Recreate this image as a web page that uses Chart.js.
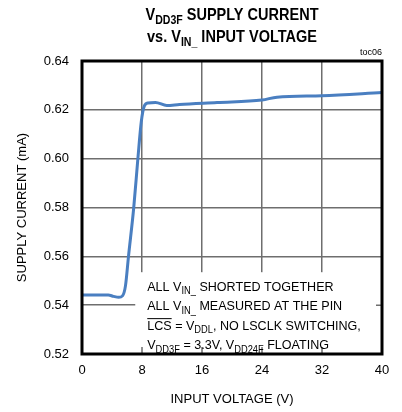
<!DOCTYPE html>
<html>
<head>
    <meta charset="UTF-8">
    <title>VDD3F Supply Current</title>
    <style>
        body { margin: 0; background: #fff; }
        canvas { display: block; }
    </style>
    <script src="https://cdn.jsdelivr.net/npm/chart.js"></script>
</head>
<body>
<canvas id="chart" width="402" height="412"></canvas>
<script>
    // values
    const voltage = [0, 2, 3.5, 4.2, 4.9, 5.4, 5.8, 6.2, 6.9, 7.45, 7.9, 8.3, 8.8, 9.8, 11.3, 13, 18, 24, 26, 32, 40];
    const current = [0.5442, 0.5442, 0.5442, 0.5436, 0.5432, 0.5438, 0.548, 0.560, 0.580, 0.600, 0.615, 0.6215, 0.6228, 0.6230, 0.6218, 0.6222, 0.6230, 0.6240, 0.6252, 0.6258, 0.6271];

    const xTicks = [0, 8, 16, 24, 32, 40];
    const yTicks = [0.52, 0.54, 0.56, 0.58, 0.60, 0.62, 0.64];

    const FONT = '"Liberation Sans", Arial, sans-serif';

    // draws a line made of normal / subscript pieces, squeezed a bit like the original narrow font
    function drawRich(ctx, parts, x, y, size, bold, align, sx) {
        const w = bold ? 'bold ' : '';
        const subSize = Math.round(size * 0.72);
        let total = 0;
        parts.forEach(p => {
            ctx.font = w + (p.sub ? subSize : size) + 'px ' + FONT;
            p.w = ctx.measureText(p.t).width * sx;
            total += p.w;
        });
        let cx = align === 'center' ? x - total / 2 : x;
        ctx.save();
        ctx.fillStyle = '#000';
        ctx.textAlign = 'left';
        ctx.textBaseline = 'alphabetic';
        parts.forEach(p => {
            ctx.font = w + (p.sub ? subSize : size) + 'px ' + FONT;
            ctx.save();
            ctx.translate(cx, y + (p.sub ? size * 0.27 : 0));
            ctx.scale(sx, 1);
            ctx.fillText(p.t, 0, 0);
            ctx.restore();
            if (p.over) {
                ctx.lineWidth = 1;
                ctx.strokeStyle = '#000';
                ctx.beginPath();
                ctx.moveTo(cx, y - size * 0.82);
                ctx.lineTo(cx + p.w, y - size * 0.82);
                ctx.stroke();
            }
            cx += p.w;
        });
        ctx.restore();
    }

    const titleLines = [
        [{t: 'V'}, {t: 'DD3F', sub: true}, {t: ' SUPPLY CURRENT'}],
        [{t: 'vs. V'}, {t: 'IN_', sub: true}, {t: ' INPUT VOLTAGE'}]
    ];

    const noteLines = [
        [{t: 'ALL V'}, {t: 'IN_', sub: true}, {t: ' SHORTED TOGETHER'}],
        [{t: 'ALL V'}, {t: 'IN_', sub: true}, {t: ' MEASURED AT THE PIN'}],
        [{t: 'LCS', over: true}, {t: ' = V'}, {t: 'DDL', sub: true}, {t: ', NO LSCLK SWITCHING,'}],
        [{t: 'V'}, {t: 'DD3F', sub: true}, {t: ' = 3.3V, V'}, {t: 'DD24F', sub: true}, {t: ' FLOATING'}]
    ];

    const decorations = {
        id: 'decorations',
        beforeDatasetsDraw(chart) {
            const {ctx, chartArea: a, scales: {x, y}} = chart;
            // white panel behind the notes hides the grid there
            const left = x.getPixelForValue(7.1);
            const top = y.getPixelForValue(0.5535);
            ctx.save();
            ctx.fillStyle = '#fff';
            ctx.fillRect(left, top, a.right - left, a.bottom - top);
            // short tick marks inside the panel
            ctx.strokeStyle = '#6e6e6e';
            ctx.lineWidth = 1.5;
            ctx.beginPath();
            xTicks.slice(1, -1).forEach(v => {
                const px = x.getPixelForValue(v);
                ctx.moveTo(px, a.bottom);
                ctx.lineTo(px, a.bottom - 7);
            });
            const py = y.getPixelForValue(0.54);
            ctx.moveTo(a.right, py);
            ctx.lineTo(a.right - 6, py);
            ctx.stroke();
            ctx.restore();
            noteLines.forEach((ln, i) => drawRich(ctx, ln, left + 12, top + 18.5 + i * 19.5, 13.5, false, 'left', 0.93));
        },
        afterDraw(chart) {
            const {ctx, chartArea: a} = chart;
            ctx.save();
            ctx.strokeStyle = '#000';
            ctx.lineWidth = 3;
            ctx.strokeRect(a.left, a.top, a.right - a.left, a.bottom - a.top);
            ctx.restore();
            const mid = (a.left + a.right) / 2;
            drawRich(ctx, titleLines[0], mid, 20, 16.5, true, 'center', 0.88);
            drawRich(ctx, titleLines[1], mid, 41.5, 16.5, true, 'center', 0.88);
            ctx.save();
            ctx.font = '9px ' + FONT;
            ctx.fillStyle = '#000';
            ctx.textAlign = 'right';
            ctx.fillText('toc06', a.right, a.top - 6);
            ctx.restore();
        }
    };

    const tickFont = {family: FONT, size: 13};
    const gridStyle = {color: '#6e6e6e', lineWidth: 1.5, drawTicks: false};

    new Chart(document.getElementById('chart'), {
        type: 'line',
        data: {
            datasets: [{
                data: voltage.map((v, i) => ({x: v, y: current[i]})),
                borderColor: '#4a7fc1',
                borderWidth: 3,
                pointRadius: 0,
                fill: false,
                cubicInterpolationMode: 'monotone'
            }]
        },
        options: {
            responsive: false,
            animation: false,
            devicePixelRatio: 1,
            layout: {padding: {top: 61, right: 20, left: 0, bottom: 0}},
            plugins: {legend: {display: false}, tooltip: {enabled: false}},
            scales: {
                x: {
                    type: 'linear',
                    min: xTicks[0],
                    max: xTicks[xTicks.length - 1],
                    afterBuildTicks: s => { s.ticks = xTicks.map(v => ({value: v})); },
                    afterFit: s => { s.height = 58; },
                    ticks: {color: '#000', font: tickFont, padding: 9, maxRotation: 0},
                    grid: gridStyle,
                    border: {display: false},
                    title: {display: true, text: 'INPUT VOLTAGE (V)', color: '#000', font: tickFont, padding: 5}
                },
                y: {
                    min: yTicks[0],
                    max: yTicks[yTicks.length - 1],
                    afterBuildTicks: s => { s.ticks = yTicks.map(v => ({value: v})); },
                    afterFit: s => { s.width = 82; },
                    ticks: {color: '#000', font: tickFont, padding: 13, callback: v => v.toFixed(2)},
                    grid: gridStyle,
                    border: {display: false},
                    title: {display: true, text: 'SUPPLY CURRENT (mA)', color: '#000', font: tickFont, padding: 15}
                }
            }
        },
        plugins: [decorations]
    });
</script>
</body>
</html>
